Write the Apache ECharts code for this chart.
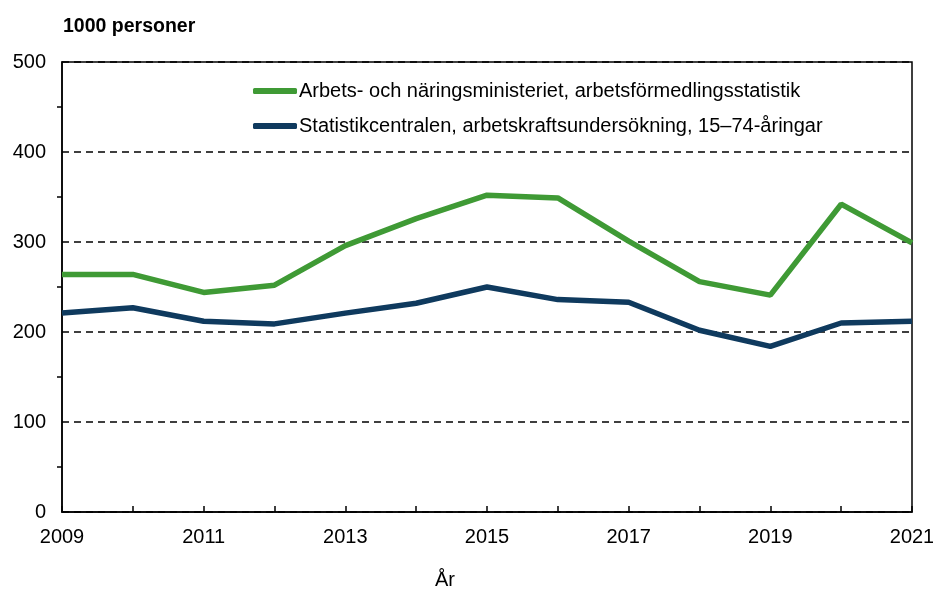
<!DOCTYPE html>
<html><head><meta charset="utf-8">
<script src="https://cdn.jsdelivr.net/npm/echarts@6/dist/echarts.min.js"></script>
<style>html,body{margin:0;padding:0;background:#fff}#c{width:933px;height:590px}</style>
</head><body><div id="c"></div>
<script>
const years = ['2009','2010','2011','2012','2013','2014','2015','2016','2017','2018','2019','2020','2021'];
const tem = [264,264,244,252,296,326,352,349,301,256,241,342,299];
const tk = [221,227,212,209,221,232,250,236,233,202,184,210,212];
const seriesNames = ['Arbets- och näringsministeriet, arbetsförmedlingsstatistik','Statistikcentralen, arbetskraftsundersökning, 15–74-åringar'];
const xName = 'År';
const font = 'Liberation Sans, Arial, sans-serif';
const chart = echarts.init(document.getElementById('c'));
chart.setOption({
  animation:false,
  textStyle:{fontFamily:font},
  title:{text:'1000 personer',left:58,top:12,textStyle:{fontFamily:font,fontSize:19.5,fontWeight:'bold',color:'#000'}},
  graphic:[{type:'text',left:435,top:570,style:{text:xName,font:'20px '+font,fill:'#000'}}],
  legend:{orient:'vertical',left:248,top:76,itemGap:15,itemWidth:44,itemHeight:6,icon:'roundRect',
    textStyle:{fontFamily:font,fontSize:20,color:'#000',padding:[0,0,0,-3]},data:seriesNames},
  grid:{left:62,right:21,top:62,bottom:78,outerBoundsMode:'none',containLabel:false,show:true,borderColor:'#000',borderWidth:1.5,backgroundColor:'transparent'},
  xAxis:{type:'category',data:years,boundaryGap:false,
    axisLine:{lineStyle:{color:'#000',width:1.5}},
    axisTick:{inside:true,length:6,interval:0,lineStyle:{color:'#000',width:1.5}},
    axisLabel:{interval:1,fontFamily:font,fontSize:20,color:'#000',margin:15},
    splitLine:{show:false}},
  yAxis:{type:'value',min:0,max:500,interval:100,
    axisLine:{show:true,lineStyle:{color:'#000',width:1.5}},
    axisTick:{show:false},
    minorTick:{show:true,splitNumber:2,length:5,lineStyle:{color:'#000',width:1.5}},
    axisLabel:{fontFamily:font,fontSize:20,color:'#000',margin:16},
    splitLine:{lineStyle:{color:'#000',type:[7,5],width:1.5}}},
  series:[
    {name:seriesNames[0],type:'line',data:tem,symbol:'none',lineStyle:{color:'#3f9a35',width:5.5},itemStyle:{color:'#3f9a35'}},
    {name:seriesNames[1],type:'line',data:tk,symbol:'none',lineStyle:{color:'#0f3a5e',width:5.5},itemStyle:{color:'#0f3a5e'}}
  ]
});
</script></body></html>
